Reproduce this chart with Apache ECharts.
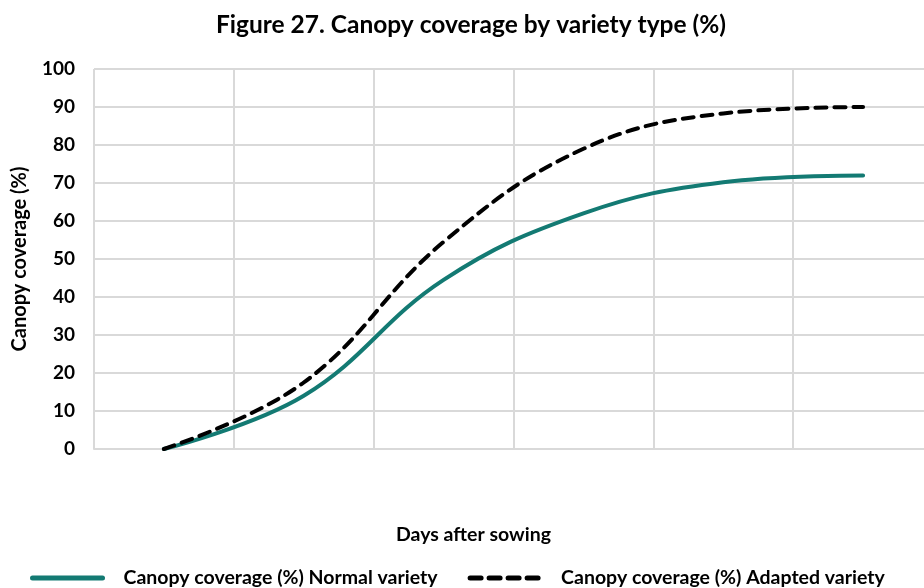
<!DOCTYPE html>
<html>
<head>
<meta charset="utf-8">
<script src="https://cdn.jsdelivr.net/npm/echarts@6/dist/echarts.min.js"></script>
<style>
  html, body { margin: 0; padding: 0; background: #fff; overflow: hidden; }
  #charts { width: 940px; height: 588px; }
</style>
</head>
<body>
<div id="charts"></div>
<script>
// x categories (not labelled in the figure)
var days = ['1', '2', '3', '4', '5', '6'];
var normalVariety = [0, 14, 44.5, 62, 70.2, 72];
var adaptedVariety = [0, 17.5, 54.5, 79, 88.3, 90];
var yTicks = [0, 100, 10];

var chart = echarts.init(document.getElementById('charts'));
var font = 'Lato, "Open Sans", sans-serif';

var option = {
    backgroundColor: '#fff',
    textStyle: { fontFamily: font },
    title: {
        text: 'Figure 27. Canopy coverage by variety type (%)',
        left: 466,
        top: 8,
        textAlign: 'center',
        textStyle: { fontFamily: font, fontSize: 24.5, fontWeight: 'bold', color: '#000' }
    },
    legend: {
        bottom: -5,
        left: 25,
        itemWidth: 70,
        itemHeight: 12,
        itemGap: 30,
        lineStyle: { width: 5 },
        itemStyle: { opacity: 0 },
        textStyle: { fontFamily: font, fontSize: 19.5, fontWeight: 'bold', color: '#000', padding: [0, 0, 0, 16] },
        data: ['Canopy coverage (%) Normal variety', 'Canopy coverage (%) Adapted variety']
    },
    grid: { left: 94, top: 69, width: 839, height: 380 },
    xAxis: {
        type: 'category',
        data: days,
        boundaryGap: true,
        name: 'Days after sowing',
        nameLocation: 'middle',
        nameGap: 76,
        nameTextStyle: { fontFamily: font, fontSize: 19.5, fontWeight: 'bold', color: '#000', padding: [0, 0, 0, -80] },
        axisLine: { show: true, lineStyle: { color: '#d9d9d9', width: 2 } },
        axisTick: { show: false },
        axisLabel: { show: false },
        splitLine: { show: true, interval: 0, lineStyle: { color: '#d9d9d9', width: 2 } }
    },
    yAxis: {
        type: 'value',
        min: yTicks[0],
        max: yTicks[1],
        interval: yTicks[2],
        name: 'Canopy coverage (%)',
        nameLocation: 'middle',
        nameGap: 64,
        nameTextStyle: { fontFamily: font, fontSize: 20, fontWeight: 'bold', color: '#000' },
        axisLine: { show: false },
        axisTick: { show: false },
        axisLabel: { fontFamily: font, fontSize: 19, fontWeight: 'bold', color: '#000', margin: 19 },
        splitLine: { lineStyle: { color: '#d9d9d9', width: 2 } }
    },
    series: [{
        name: 'Canopy coverage (%) Normal variety',
        type: 'line',
        data: normalVariety,
        smooth: 0.4,
        symbol: 'none',
        itemStyle: { color: '#137a73' },
        lineStyle: { color: '#137a73', width: 4, cap: 'round' }
    }, {
        name: 'Canopy coverage (%) Adapted variety',
        type: 'line',
        data: adaptedVariety,
        smooth: 0.4,
        symbol: 'none',
        itemStyle: { color: '#000' },
        lineStyle: { color: '#000', width: 4, type: [11, 8], cap: 'round' }
    }]
};

chart.setOption(option);
</script>
</body>
</html>
